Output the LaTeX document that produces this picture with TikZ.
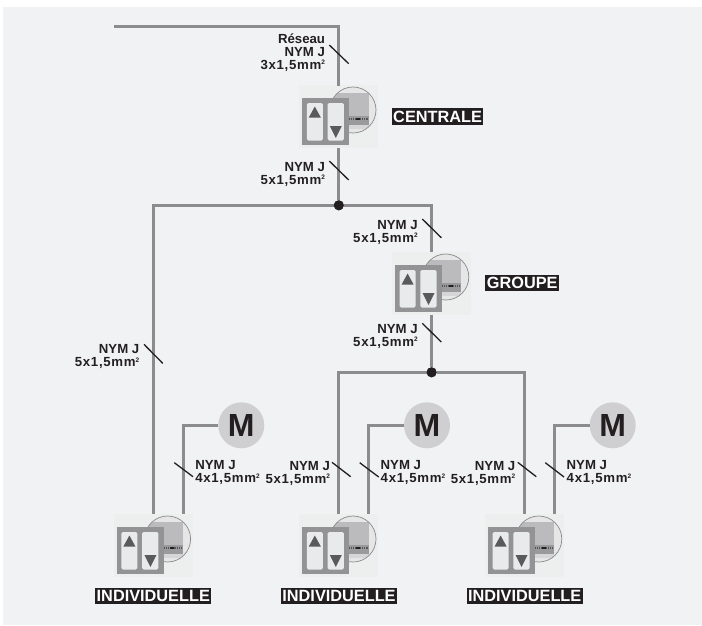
\documentclass[tikz,border=0pt]{standalone}
\usepackage{fontspec}
\setmainfont{Liberation Sans}
\newfontfamily\widefam[LetterSpace=5.5]{Liberation Sans}
\definecolor{panel}{HTML}{F1F2F4}
\definecolor{wirec}{HTML}{8C8C8E}
\definecolor{ink}{HTML}{231F20}
\definecolor{devbg}{HTML}{EDEEEE}
\definecolor{facec}{HTML}{939395}
\definecolor{btnc}{HTML}{E9EAEB}
\definecolor{triac}{HTML}{5A5A5C}
\definecolor{motorc}{HTML}{CFCFD1}
\definecolor{lensc}{HTML}{E6E6E6}
\definecolor{lensdark}{HTML}{BBBBBD}
\definecolor{stripc}{HTML}{9A9A9C}
\definecolor{dotc}{HTML}{55555A}
\definecolor{lenslow}{HTML}{D6D6D8}
\definecolor{ringc}{HTML}{8A8A8C}
\newcommand{\sqmark}{\raisebox{4.6pt}{\fontsize{6.5}{6.5}\selectfont 2}}
\newcommand{\csize}[1]{{\widefam\bfseries #1}\sqmark}
\newcommand{\devdetail}[1]{%
  \begin{scope}[shift={(#1.center)}]
    \begin{scope}
      \clip (14.2,-6.5) circle (23);
      \fill[lensc] (-20,-31) rectangle (40,18);
      \fill[lensdark] (-12,-24) rectangle (29.8,-0.5);
      \fill[stripc] (8,-0.5) rectangle (29.8,8.5);
      \draw[dotc,line width=1.2,dash pattern=on 1.2 off 1] (10,2.4) -- (29.8,2.4);
      \draw[ink,line width=1.4] (17,2.4) -- (21,2.4);
      \fill[lenslow] (8,8.5) rectangle (29.8,12);
    \end{scope}
    \draw[ringc,line width=0.7] (14.2,-6.5) circle (23);
    \fill[facec] (-36.5,-18.5) rectangle (10.5,28.5);
    \fill[btnc,rounded corners=1.5] (-32,-13.5) rectangle (-16,24);
    \fill[btnc,rounded corners=1.5] (-11.2,-13.5) rectangle (5,24);
    \fill[triac] (-30,1) -- (-18,1) -- (-24,-10) -- cycle;
    \fill[triac] (-9,9.5) -- (3,9.5) -- (-3,21.5) -- cycle;
  \end{scope}}
\tikzset{
  wire/.style={draw=wirec,line width=3},
  tickmark/.style={draw=ink,line width=1.3},
  device/.style={fill=devbg,minimum width=79,minimum height=63,inner sep=0,outer sep=0,rectangle},
  junction/.style={circle,fill=ink,minimum size=10,inner sep=0,outer sep=0},
  motor/.style={circle,fill=motorc,minimum size=46,inner sep=0,outer sep=0,text=ink,font=\fontsize{32}{32}\selectfont\bfseries},
  cable/.style={inner sep=0,outer sep=0,text=ink,font=\fontsize{13.2}{13}\selectfont\bfseries},
  cableL/.style={cable,align=right,anchor=base east},
  cableR/.style={cable,align=left,anchor=base west},
  tag/.style={fill=ink,text=white,inner sep=0,outer sep=0,minimum height=16.3,font=\fontsize{16.3}{16.3}\selectfont\bfseries},
}
\begin{document}
\begin{tikzpicture}[x=1pt,y=-1pt]
\useasboundingbox (0,0) rectangle (702,625);
\fill[panel] (3,7) rectangle (702,625);

% devices
\node[device] (cen) at (338.8,116.5) {};
\node[device] (grp) at (431.6,283.5) {};
\node[device] (i1) at (153.4,545.5) {};
\node[device] (i2) at (338.8,545.5) {};
\node[device] (i3) at (524.6,545.5) {};
\devdetail{cen}\devdetail{grp}\devdetail{i1}\devdetail{i2}\devdetail{i3}

% junctions and motors
\node[junction] (j1) at (338.8,205.3) {};
\node[junction] (j2) at (431.6,372.3) {};
\node[motor] (m1) at (241.3,425.3) {M};
\node[motor] (m2) at (427,425.3) {M};
\node[motor] (m3) at (612.7,425.3) {M};
\coordinate (start) at (114,26.5);

% wires
\draw[wire] (start) -| ([yshift=-1pt]cen.north);
\draw[wire] (cen.south) -- (j1);
\draw[wire] (j1) -| (grp.north);
\draw[wire] (j1) -| (i1.north);
\draw[wire] (grp.south) -- (j2);
\draw[wire] (j2) -| (i2.north);
\draw[wire] (j2) -| (i3.north);
\draw[wire] (m1.west) -| ([xshift=29.8pt]i1.north);
\draw[wire] (m2.west) -| ([xshift=29.8pt]i2.north);
\draw[wire] (m3.west) -| ([xshift=29.8pt]i3.north);
\node[junction] at (j1) {};
\node[junction] at (j2) {};

% cable ticks
\draw[tickmark] (329.3,45) -- (348.7,63.7);
\draw[tickmark] (329.3,161) -- (348.7,180);
\draw[tickmark] (422.3,219) -- (441.3,237.7);
\draw[tickmark] (422.3,323.3) -- (441.3,342);
\draw[tickmark] (144,344.3) -- (162.7,363.3);
\draw[tickmark] (174.3,462.7) -- (193,476.7);
\draw[tickmark] (332,462.3) -- (350.7,476.7);
\draw[tickmark] (359.7,462.7) -- (378.7,477);
\draw[tickmark] (517.7,462.3) -- (536.3,476.7);
\draw[tickmark] (545.3,462.7) -- (564,477);

% cable labels
\node[cableL] (l1) at (325,69) {Réseau\\NYM J\\\csize{3x1,5mm}};
\node[cableL] (l2) at (325,184) {NYM J\\\csize{5x1,5mm}};
\node[cableL] (l3) at (417.7,242.3) {NYM J\\\csize{5x1,5mm}};
\node[cableL] (l4) at (417.7,346) {NYM J\\\csize{5x1,5mm}};
\node[cableL] (l5) at (139.3,366.7) {NYM J\\\csize{5x1,5mm}};
\node[cableR] (l6) at (195.3,482.7) {NYM J\\\csize{4x1,5mm}};
\node[cableL] (l7) at (330,483) {NYM J\\\csize{5x1,5mm}};
\node[cableR] (l8) at (380.7,482.7) {NYM J\\\csize{4x1,5mm}};
\node[cableL] (l9) at (515.3,483) {NYM J\\\csize{5x1,5mm}};
\node[cableR] (l10) at (566.7,482.7) {NYM J\\\csize{4x1,5mm}};

% tags
\node[tag,minimum width=90.7] (tc) at (437.6,116.5) {CENTRALE};
\node[tag,minimum width=74.3] (tg) at (522.2,283.2) {GROUPE};
\node[tag,minimum width=116] (t1) at (153.3,596.3) {INDIVIDUELLE};
\node[tag,minimum width=116] (t2) at (339,596.3) {INDIVIDUELLE};
\node[tag,minimum width=116] (t3) at (524.7,596.3) {INDIVIDUELLE};
\end{tikzpicture}
\end{document}
